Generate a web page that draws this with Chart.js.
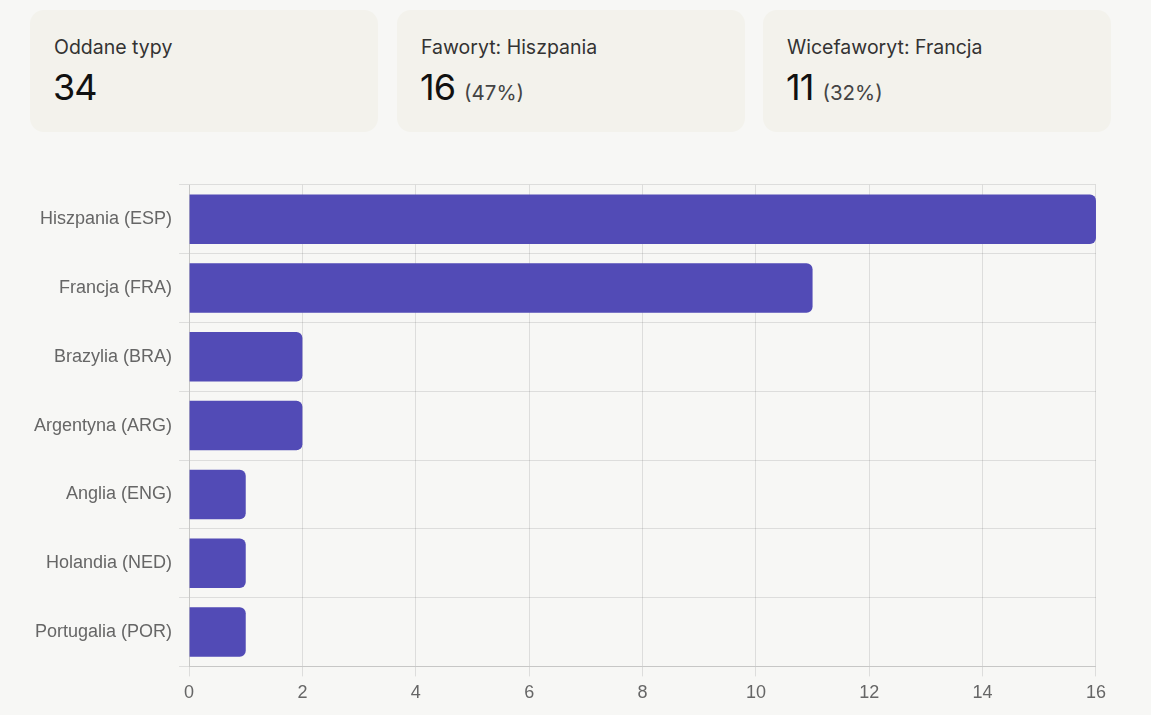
<!DOCTYPE html>
<html>
<head>
<meta charset="utf-8">
<script src="https://cdn.jsdelivr.net/npm/chart.js@4"></script>
<style>
  body { margin: 0; background: #f7f7f5; width: 1151px; height: 715px; overflow: hidden; font-family: Inter, "Noto Sans", sans-serif; }
  .card { position: absolute; top: 10px; height: 122px; width: 348px; background: #f3f2ec; border-radius: 14px; }
  .card .lbl { position: absolute; left: 24px; top: 25px; font-size: 19.5px; color: #333; }
  .card .val { position: absolute; left: 23px; top: 55px; font-size: 36px; color: #111; letter-spacing: -1px; }
  .card .val span { font-size: 20.5px; color: #444; letter-spacing: 0; }
  #wrap { position: absolute; left: 27px; top: 167px; width: 1085px; height: 547px; }
</style>
</head>
<body>
<div class="card" style="left:30px"><div class="lbl">Oddane typy</div><div class="val" id="v0"></div></div>
<div class="card" style="left:397px"><div class="lbl">Faworyt: Hiszpania</div><div class="val" id="v1"></div></div>
<div class="card" style="left:763px"><div class="lbl">Wicefaworyt: Francja</div><div class="val" id="v2"></div></div>
<div id="wrap"><canvas id="canvas"></canvas></div>
<script>
var teams = ['Hiszpania (ESP)', 'Francja (FRA)', 'Brazylia (BRA)', 'Argentyna (ARG)', 'Anglia (ENG)', 'Holandia (NED)', 'Portugalia (POR)'];
var votes = [16, 11, 2, 2, 1, 1, 1];
var total = 34;

document.getElementById('v0').innerHTML = total;
document.getElementById('v1').innerHTML = votes[0] + ' <span>(' + Math.round(votes[0] / total * 100) + '%)</span>';
document.getElementById('v2').innerHTML = votes[1] + ' <span>(' + Math.round(votes[1] / total * 100) + '%)</span>';

const ctx = document.getElementById('canvas');
const myChart = new Chart(ctx, {
    type: 'bar',
    data: {
        labels: teams,
        datasets: [{
            label: 'typy',
            data: votes,
            backgroundColor: '#524bb6',
            borderRadius: 6,
            borderSkipped: 'start'
        }]
    },
    options: {
        indexAxis: 'y',
        maintainAspectRatio: false,
        animation: false,
        layout: { padding: { top: 4, right: 6, bottom: 4 } },
        plugins: { legend: { display: false }, tooltip: { enabled: false } },
        scales: {
            x: {
                min: 0,
                max: 16,
                ticks: { stepSize: 2, padding: 6, color: '#666', font: { family: 'Liberation Sans', size: 18 } },
                grid: { color: 'rgba(0,0,0,0.1)', tickLength: 10 }
            },
            y: {
                ticks: { padding: 7, color: '#666', font: { family: 'Liberation Sans', size: 18 } },
                grid: { color: 'rgba(0,0,0,0.1)', tickLength: 10 }
            }
        }
    }
});
</script>
</body>
</html>
